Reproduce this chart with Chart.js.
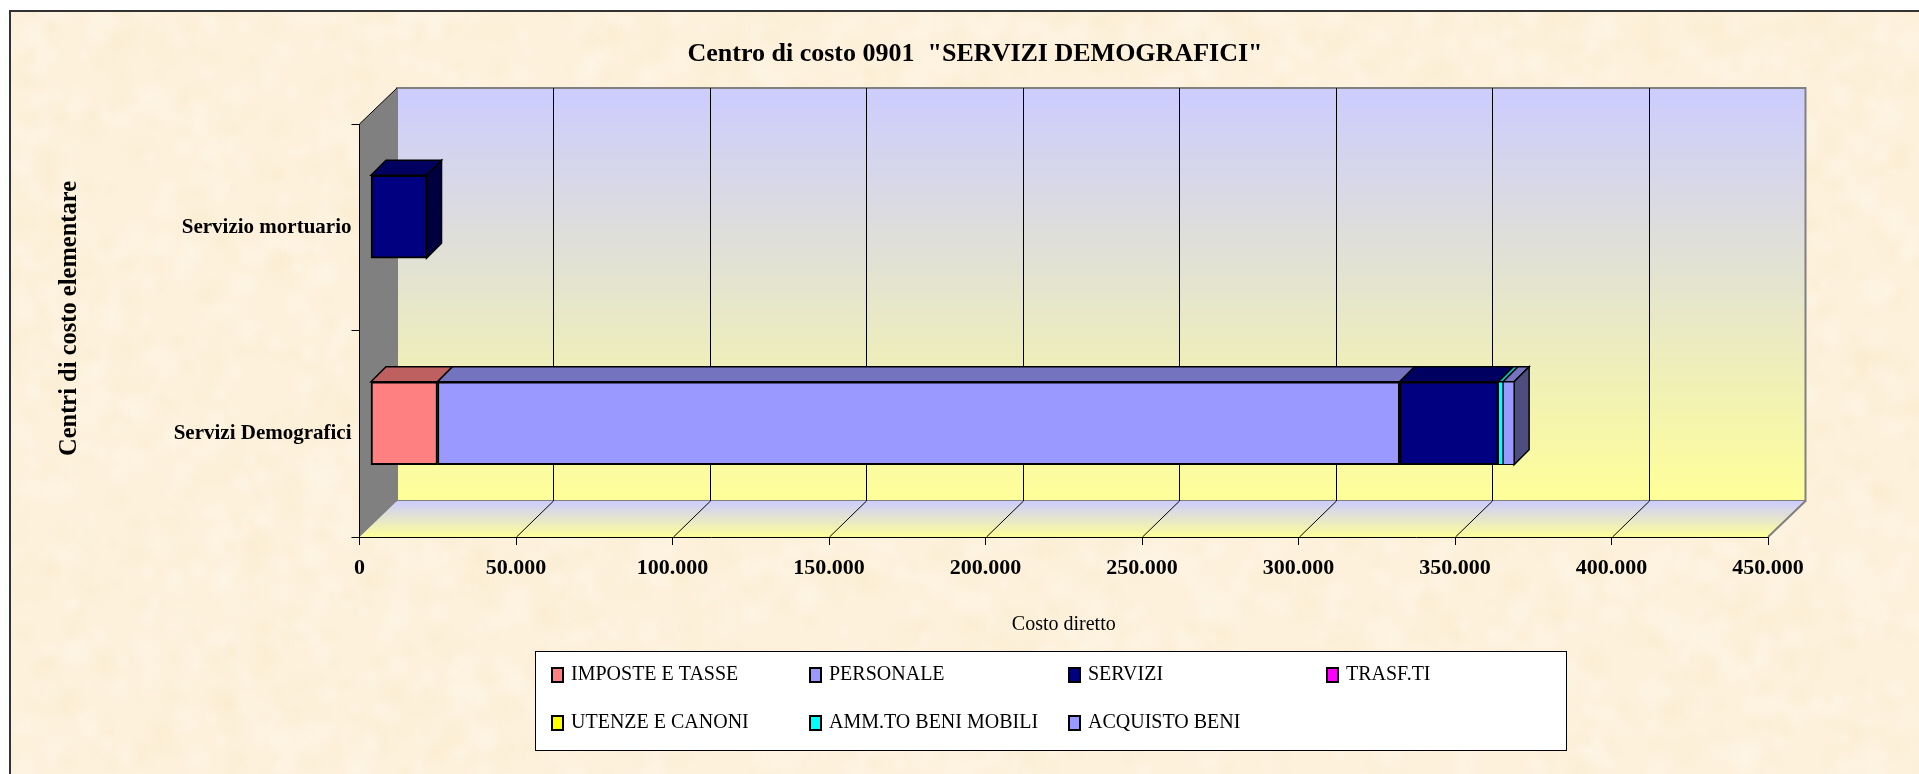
<!DOCTYPE html>
<html lang="it"><head><meta charset="utf-8">
<style>html,body{margin:0;padding:0;background:#fff}canvas{display:block}</style>
<script src="https://cdn.jsdelivr.net/npm/chart.js@4/dist/chart.umd.min.js"></script>
</head><body><canvas id="c" width="1919" height="774"></canvas>
<script>
const categories = ['Servizio mortuario', 'Servizi Demografici'];
const seriesNames = ['IMPOSTE E TASSE','PERSONALE','SERVIZI','TRASF.TI','UTENZE E CANONI','AMM.TO BENI MOBILI','ACQUISTO BENI'];
const seriesColors = ['#ff8080','#9999ff','#000080','#ff00ff','#ffff00','#00ffff','#9999ff'];
const imposte   = [0, 21400];
const personale = [0, 307400];
const servizi   = [17900, 31500];
const trasf     = [0, 0];
const utenze    = [0, 0];
const ammto     = [0, 1530];
const acquisto  = [0, 3545];
const seriesValues = [imposte, personale, servizi, trasf, utenze, ammto, acquisto];
const axisMax = 450000, axisStep = 50000;
const titleText = 'Centro di costo 0901  "SERVIZI DEMOGRAFICI"';
const xTitleText = 'Costo diretto';
const yTitleText = 'Centri di costo elementare';

const SERIF = '"Liberation Serif","Times New Roman",serif';
const DEPTH = {x: 37.5, y: 36};      // wall depth
const BAR = {x: 11, y: 10.5, dx: 15, dy: 15}; // bar offset inside the depth, bar depth

function shade(hex, f){
  const n = parseInt(hex.slice(1), 16);
  const c = s => Math.round(((n >> s) & 255) * f);
  return `rgb(${c(16)},${c(8)},${c(0)})`;
}
function poly(ctx, pts, fill, stroke, lw){
  ctx.beginPath();
  pts.forEach((p, i) => i ? ctx.lineTo(p[0], p[1]) : ctx.moveTo(p[0], p[1]));
  ctx.closePath();
  if (fill) { ctx.fillStyle = fill; ctx.fill(); }
  if (stroke) { ctx.strokeStyle = stroke; ctx.lineWidth = lw || 1; ctx.stroke(); }
}

const scene = {
  id: 'scene',
  afterLayout(chart){
    chart.titleBlock.left = 31; chart.titleBlock.right = 1919;
    const y = chart.scales.y;
    if (!y._wrapped) {
      const o = y.drawTitle;
      y.drawTitle = function(){ const c = this.ctx; c.save(); c.translate(0, -12); o.call(this); c.restore(); };
      y._wrapped = true;
    }
  },
  beforeDraw(chart){
    const ctx = chart.ctx, a = chart.chartArea, W = chart.width, H = chart.height;
    ctx.save();
    ctx.fillStyle = '#fff'; ctx.fillRect(0, 0, W, H);
    ctx.fillStyle = '#fdf1dc'; ctx.fillRect(10, 11, W - 10, H - 11);
    // parchment mottling
    ctx.beginPath(); ctx.rect(11, 12, W - 11, H - 12); ctx.clip();
    let s = 12345; const r = () => (s = (s * 1103515245 + 12345) & 0x7fffffff) / 0x7fffffff;
    for (let i = 0; i < 4000; i++) {
      const x = r() * W, y = r() * H, R = 6 + r() * 16, light = r() > .5;
      const g = ctx.createRadialGradient(x, y, 0, x, y, R);
      const col = light ? '255,247,234' : '249,235,204';
      g.addColorStop(0, `rgba(${col},.35)`); g.addColorStop(1, `rgba(${col},0)`);
      ctx.fillStyle = g; ctx.fillRect(x - R, y - R, 2 * R, 2 * R);
    }
    ctx.restore();
    ctx.save();
    // frame (top and left only)
    ctx.fillStyle = '#333'; ctx.fillRect(9, 10, W - 9, 2); ctx.fillRect(9, 10, 2, H - 10);
    const {left: L, right: Rt, top: T, bottom: B} = a, dx = DEPTH.x, dy = DEPTH.y;
    // back wall
    let g = ctx.createLinearGradient(0, T - dy, 0, B - dy);
    g.addColorStop(0, '#ccccff'); g.addColorStop(1, '#ffff99');
    poly(ctx, [[L+dx,T-dy],[Rt+dx,T-dy],[Rt+dx,B-dy],[L+dx,B-dy]], g, '#808080', 2);
    // floor
    g = ctx.createLinearGradient(0, B - dy, 0, B);
    g.addColorStop(0, '#ccccff'); g.addColorStop(1, '#ffff99');
    poly(ctx, [[L+dx,B-dy],[Rt+dx,B-dy],[Rt,B],[L,B]], g, null);
    ctx.strokeStyle = '#808080'; ctx.lineWidth = 2;
    ctx.beginPath(); ctx.moveTo(Rt, B); ctx.lineTo(Rt+dx, B-dy); ctx.stroke();
    // side wall
    poly(ctx, [[L,T],[L+dx,T-dy],[L+dx,B-dy],[L,B]], '#808080', null);
    ctx.strokeStyle = '#000'; ctx.lineWidth = 1;
    ctx.beginPath(); ctx.moveTo(L, T); ctx.lineTo(L+dx, T-dy); ctx.stroke();
    // grid on wall and floor
    const xs = chart.scales.x, gx = Math.floor(dx);
    xs.ticks.forEach(t => {
      if (t.value === 0 || t.value === axisMax) return;
      const p = Math.round(xs.getPixelForValue(t.value)) + .5;
      ctx.beginPath();
      ctx.moveTo(p, B); ctx.lineTo(p + gx, B - dy); ctx.lineTo(p + gx, T - dy);
      ctx.stroke();
    });
    ctx.restore();
  },
  beforeDatasetsDraw(chart){
    const ctx = chart.ctx;
    ctx.save();
    ctx.translate(BAR.x, -BAR.y);
    const {dx, dy} = BAR;
    chart.data.datasets.forEach((ds, di) => {
      chart.getDatasetMeta(di).data.forEach((el, i) => {
        if (!ds.data[i]) return;
        const p = el.getProps(['x','y','base','height'], true);
        const x0 = p.base, x1 = p.x, t = p.y - p.height/2, b = p.y + p.height/2;
        poly(ctx, [[x0,t],[x0+dx,t-dy],[x1+dx,t-dy],[x1,t]], shade(seriesColors[di], .75), '#000', 1.5);
        const last = !seriesValues.slice(di+1).some(v => v[i]);
        if (last) poly(ctx, [[x1,t],[x1+dx,t-dy],[x1+dx,b-dy],[x1,b]], shade(seriesColors[di], .5), '#000', 1.5);
      });
    });
  },
  afterDatasetsDraw(chart){ chart.ctx.restore(); },
  afterDraw(chart){
    // legend read from the datasets
    const ctx = chart.ctx;
    ctx.save();
    ctx.fillStyle = '#fff'; ctx.fillRect(535.5, 651.5, 1031, 99);
    ctx.strokeStyle = '#000'; ctx.lineWidth = 1; ctx.strokeRect(535.5, 651.5, 1031, 99);
    const cols = [552, 810, 1069, 1327], rows = [675, 723];
    ctx.font = '20px ' + SERIF; ctx.textBaseline = 'middle'; ctx.textAlign = 'left';
    chart.data.datasets.forEach((ds, i) => {
      const x = cols[i % 4], y = rows[Math.floor(i / 4)];
      ctx.fillStyle = seriesColors[i]; ctx.fillRect(x, y - 7, 11, 14);
      ctx.strokeStyle = '#000'; ctx.lineWidth = 2; ctx.strokeRect(x, y - 7, 11, 14);
      ctx.fillStyle = '#000'; ctx.fillText(ds.label, x + 19, y);
    });
    ctx.restore();
  }
};

new Chart(document.getElementById('c'), {
  type: 'bar',
  data: {
    labels: categories,
    datasets: seriesNames.map((n, i) => ({
      label: n, data: seriesValues[i],
      backgroundColor: c => c.raw ? seriesColors[i] : 'rgba(0,0,0,0)',
      borderColor: '#000', borderWidth: c => !c.raw ? 0 : (c.raw < 5000 ? 1 : 2), borderSkipped: false,
      barThickness: 83, stack: 's', clip: false
    }))
  },
  options: {
    indexAxis: 'y', responsive: false, animation: false, events: [],
    layout: {padding: {left: 10, right: 151, top: 11, bottom: 0}},
    plugins: {
      legend: {display: false}, tooltip: {enabled: false},
      title: {display: true, text: titleText, color: '#000',
        font: {family: SERIF, size: 26, weight: 'bold', lineHeight: 1.2},
        padding: {top: 27.4, bottom: 54.4}}
    },
    scales: {
      x: {
        min: 0, max: axisMax, stacked: true,
        afterFit: s => { s.height = 237; },
        afterBuildTicks: s => { s.ticks = seriesTicks(); },
        border: {display: true, color: '#000', width: 1},
        grid: {display: true, drawOnChartArea: false, drawTicks: true, tickLength: 8, color: '#000'},
        ticks: {
          color: '#000', padding: 10, maxRotation: 0, autoSkip: false,
          font: {family: SERIF, size: 22, weight: 'bold'},
          callback: v => v === 0 ? '0' : String(v).replace(/\B(?=(\d{3})+$)/g, '.')
        },
        title: {display: true, text: xTitleText, color: '#000',
          font: {family: SERIF, size: 20, lineHeight: 1.2}, padding: {top: 0, bottom: 137}}
      },
      y: {
        stacked: true,
        afterFit: s => { s.width = 349.5; },
        border: {display: true, color: '#000', width: 1},
        grid: {display: true, drawOnChartArea: false, drawTicks: true, tickLength: 8, color: '#000'},
        ticks: {color: '#000', padding: 0, font: {family: SERIF, size: 21, weight: 'bold'}},
        title: {display: true, text: yTitleText, color: '#000',
          font: {family: SERIF, size: 24.5, weight: 'bold', lineHeight: 1.2}, padding: {top: 45, bottom: 0}}
      }
    }
  },
  plugins: [scene]
});
function seriesTicks(){
  const t = [];
  for (let v = 0; v <= axisMax; v += axisStep) t.push({value: v});
  return t;
}
</script></body></html>
